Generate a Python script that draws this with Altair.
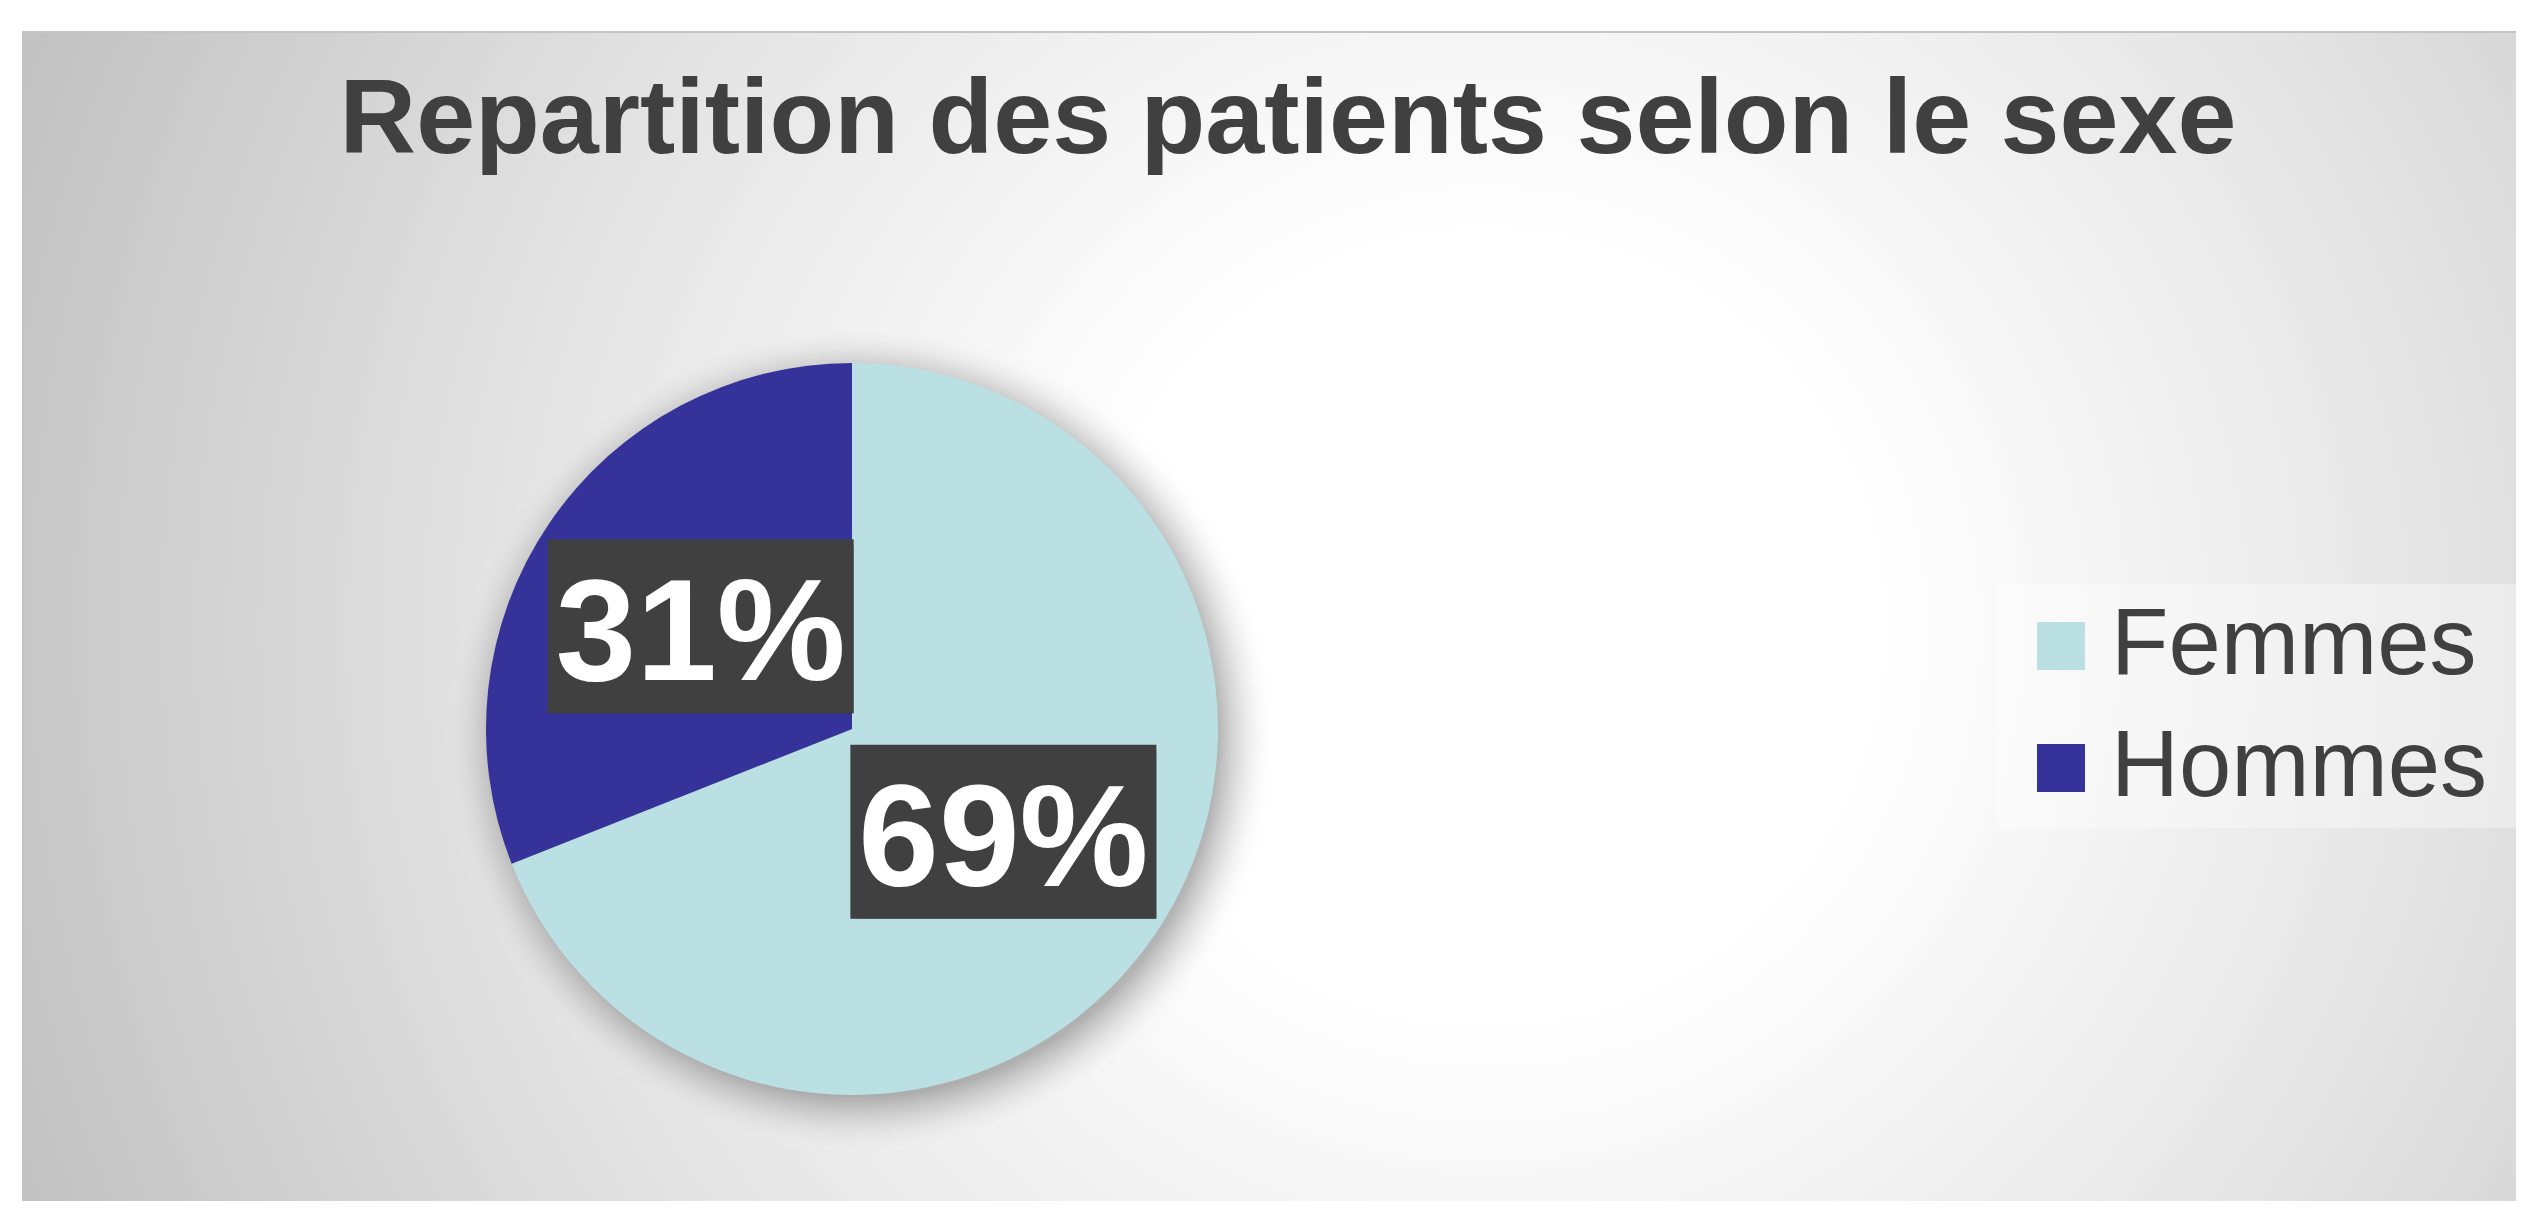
import math
import altair as alt
import pandas as pd

# ---- data ----
categories = ["Femmes", "Hommes"]
values = [69, 31]
labels = ["69%", "31%"]
orders = [1, 2]
title_text = "Repartition des patients selon le sexe"

colors = ["#BAE0E3", "#353399"]

df = pd.DataFrame({"category": categories, "value": values,
                   "label": labels, "order": orders})
one = pd.DataFrame({"k": [0]})

R = 366          # pie radius (px)
W = H = 2 * R    # plot area
FONT = "Liberation Sans"

# ---- background with radial gradient ----
bg_grad = alt.RadialGradient(
    gradient="radial", x1=0.58, y1=0.5, r1=0.0, x2=0.58, y2=0.5, r2=0.62,
    stops=[alt.GradientStop(offset=0.0, color="#ffffff"),
           alt.GradientStop(offset=0.25, color="#ffffff"),
           alt.GradientStop(offset=0.62, color="#e4e4e4"),
           alt.GradientStop(offset=1.0, color="#c2c2c2")])
background = alt.Chart(one).mark_rect(fill=bg_grad, stroke="#c4c4c4", strokeWidth=2).encode(
    x=alt.value(-463), x2=alt.value(2060), y=alt.value(-331), y2=alt.value(860))

title = alt.Chart(one).mark_text(
    text=title_text, font=FONT, fontSize=106, fontWeight="bold", color="#404040",
    align="center", baseline="alphabetic").encode(x=alt.value(802), y=alt.value(-210))

legend_bg = alt.Chart(one).mark_rect(fill="#ffffff", opacity=0.35).encode(
    x=alt.value(1510), x2=alt.value(2060), y=alt.value(221), y2=alt.value(465))

# ---- pie shadow ----
sh_grad = alt.RadialGradient(
    gradient="radial", x1=0.5, y1=0.5, r1=0.0, x2=0.5, y2=0.5, r2=0.5,
    stops=[alt.GradientStop(offset=0.0, color="rgba(110,110,110,0.7)"),
           alt.GradientStop(offset=0.86, color="rgba(120,120,120,0.55)"),
           alt.GradientStop(offset=0.92, color="rgba(150,150,150,0.25)"),
           alt.GradientStop(offset=1.0, color="rgba(255,255,255,0)")])
pie_shadow = alt.Chart(one).mark_arc(fill=sh_grad, radius=R + 50).encode(
    theta=alt.value(0), theta2=alt.value(2 * math.pi),
    x=alt.value(R + 8), y=alt.value(R + 10))

# ---- pie ----
pie = alt.Chart(df).mark_arc(outerRadius=R).encode(
    theta=alt.Theta("value:Q", stack=True),
    order=alt.Order("order:Q"),
    color=alt.Color("category:N",
                    scale=alt.Scale(domain=categories, range=colors),
                    legend=alt.Legend(orient="none", legendX=1528, legendY=236,
                                      title=None, symbolType="square", symbolSize=2304,
                                      symbolStrokeWidth=0, labelFontSize=94,
                                      labelFont=FONT, labelColor="#404040",
                                      labelOffset=3, rowPadding=28, padding=0,
                                      labelLimit=800)))

# ---- data labels in boxes ----
base = alt.Chart(df).transform_joinaggregate(
    total="sum(value)"
).transform_window(
    cum="sum(value)", sort=[alt.SortField("order")]
).transform_calculate(
    mid="(datum.cum - datum.value/2) / datum.total * 2 * PI",
    lx="183 * sin(datum.mid)",
    ly="-183 * cos(datum.mid)",
    bx1="datum.lx - 153", bx2="datum.lx + 153",
    by1="datum.ly - 87", by2="datum.ly + 87",
)
xs = alt.Scale(domain=[-R, R])
ys = alt.Scale(domain=[-R, R], reverse=True)

box_sh1 = base.mark_rect(fill="#000000", opacity=0.18, xOffset=7, yOffset=9).encode(
    x=alt.X("bx1:Q", scale=xs, axis=None), x2="bx2:Q",
    y=alt.Y("by1:Q", scale=ys, axis=None), y2="by2:Q")
box_sh2 = base.mark_rect(fill="#000000", opacity=0.3, xOffset=4, yOffset=5).encode(
    x=alt.X("bx1:Q", scale=xs, axis=None), x2="bx2:Q",
    y=alt.Y("by1:Q", scale=ys, axis=None), y2="by2:Q")
box = base.mark_rect(fill="#404040").encode(
    x=alt.X("bx1:Q", scale=xs, axis=None), x2="bx2:Q",
    y=alt.Y("by1:Q", scale=ys, axis=None), y2="by2:Q")
text = base.mark_text(font=FONT, fontSize=145, fontWeight="bold", color="#ffffff",
                      align="center", baseline="alphabetic", dy=54).encode(
    x=alt.X("lx:Q", scale=xs, axis=None),
    y=alt.Y("ly:Q", scale=ys, axis=None),
    text="label:N")

chart = alt.layer(background, title, legend_bg, pie_shadow, pie,
                  box_sh1, box_sh2, box, text).properties(
    width=W, height=H,
    autosize=alt.AutoSizeParams(type="none"),
    padding={"left": 478, "top": 355, "right": 1298, "bottom": 106},
).configure_view(stroke=None)

chart.save("out.html", embed_options={"renderer": "svg", "actions": False})
